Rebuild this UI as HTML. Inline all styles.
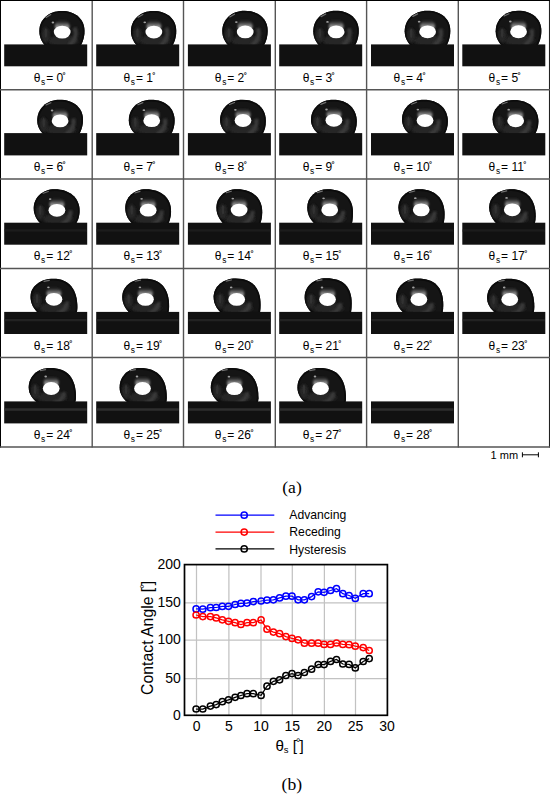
<!DOCTYPE html>
<html><head><meta charset="utf-8"><style>
html,body{margin:0;padding:0;background:#fff;width:550px;height:794px;overflow:hidden}
svg{display:block}
text{font-family:"Liberation Sans",sans-serif;fill:#000}
.lb{font-size:12px}
.sb{font-size:8.4px}
.sp{font-size:7.5px;font-weight:bold}
.tk{font-size:14px}
.al{font-size:15.2px}
.al2{font-size:15.8px}
.sb2{font-size:9.5px}
.dg{font-size:11px}
.lg{font-size:12.2px}
.mm{font-size:11px}
.cap{font-family:"Liberation Serif",serif;font-size:17.6px}
</style></head><body>
<svg width="550" height="794" viewBox="0 0 550 794">
<defs>
<radialGradient id="hl" cx="0.5" cy="0.5" r="0.5">
  <stop offset="0" stop-color="#ffffff"/>
  <stop offset="0.72" stop-color="#ffffff"/>
  <stop offset="0.9" stop-color="#d8d8d8"/>
  <stop offset="1" stop-color="#6a6a6a" stop-opacity="0"/>
</radialGradient>
<radialGradient id="halo" cx="0.5" cy="0.62" r="0.5" fx="0.5" fy="0.75">
  <stop offset="0" stop-color="#e0e0e0"/>
  <stop offset="0.45" stop-color="#a8a8a8"/>
  <stop offset="0.8" stop-color="#444" stop-opacity="0.6"/>
  <stop offset="1" stop-color="#1c1c1c" stop-opacity="0"/>
</radialGradient>
<linearGradient id="halo2" x1="0" y1="0" x2="0" y2="1">
  <stop offset="0" stop-color="#1c1c1c" stop-opacity="0"/>
  <stop offset="0.35" stop-color="#555"/>
  <stop offset="0.7" stop-color="#b8b8b8"/>
  <stop offset="1" stop-color="#f0f0f0"/>
</linearGradient>
<filter id="bl15" x="-50%" y="-50%" width="200%" height="200%"><feGaussianBlur stdDeviation="1.3"/></filter>
<filter id="bl05" x="-50%" y="-50%" width="200%" height="200%"><feGaussianBlur stdDeviation="0.45"/></filter>
<filter id="bl1" x="-50%" y="-50%" width="200%" height="200%"><feGaussianBlur stdDeviation="1.2"/></filter>
<radialGradient id="refl" cx="0.5" cy="0.5" r="0.5">
  <stop offset="0" stop-color="#4a4a4a"/>
  <stop offset="1" stop-color="#2a2a2a" stop-opacity="0"/>
</radialGradient>
<linearGradient id="subg" x1="0" y1="0" x2="0" y2="1">
  <stop offset="0" stop-color="#111"/>
  <stop offset="1" stop-color="#141414"/>
</linearGradient>
<clipPath id="cp0"><path d="M35.10,30.50 C35.10,19.10 44.69,10.50 57.40,10.50 C71.14,10.50 80.30,18.50 80.30,30.50 C80.30,43.48 72.29,54.00 62.41,54.00 C47.33,54.00 35.10,43.48 35.10,30.50 Z"/></clipPath><clipPath id="cp1"><path d="M34.75,30.55 C34.75,19.08 44.34,10.43 57.05,10.43 C70.85,10.43 80.05,18.43 80.05,30.43 C80.05,43.39 72.12,53.90 62.34,53.90 C47.10,53.90 34.75,43.45 34.75,30.55 Z"/></clipPath><clipPath id="cp2"><path d="M34.40,30.60 C34.40,19.07 43.99,10.37 56.70,10.37 C70.56,10.37 79.80,18.37 79.80,30.37 C79.80,43.36 71.90,53.90 62.16,53.90 C46.83,53.90 34.40,43.47 34.40,30.60 Z"/></clipPath><clipPath id="cp3"><path d="M34.05,30.65 C34.05,19.05 43.64,10.30 56.35,10.30 C70.27,10.30 79.55,18.30 79.55,30.30 C79.55,43.33 71.73,53.90 62.09,53.90 C46.60,53.90 34.05,43.49 34.05,30.65 Z"/></clipPath><clipPath id="cp4"><path d="M33.70,30.70 C33.70,19.03 43.29,10.23 56.00,10.23 C69.98,10.23 79.30,18.23 79.30,30.23 C79.30,43.30 71.51,53.90 61.91,53.90 C46.33,53.90 33.70,43.51 33.70,30.70 Z"/></clipPath><clipPath id="cp5"><path d="M33.35,30.75 C33.35,19.02 42.94,10.17 55.65,10.17 C69.69,10.17 79.05,18.17 79.05,30.17 C79.05,43.22 71.30,53.80 61.73,53.80 C46.06,53.80 33.35,43.48 33.35,30.75 Z"/></clipPath><clipPath id="cp6"><path d="M33.00,30.80 C33.00,19.00 42.59,10.10 55.30,10.10 C69.40,10.10 78.80,18.10 78.80,30.10 C78.80,42.69 71.13,52.90 61.66,52.90 C45.83,52.90 33.00,43.01 33.00,30.80 Z"/></clipPath><clipPath id="cp7"><path d="M32.60,30.57 C32.60,18.90 42.19,10.10 54.90,10.10 C69.00,10.10 78.40,18.35 78.40,30.73 C78.40,42.81 71.17,52.60 62.25,52.60 C45.87,52.60 32.60,42.74 32.60,30.57 Z"/></clipPath><clipPath id="cp8"><path d="M32.20,30.33 C32.20,18.80 41.79,10.10 54.50,10.10 C68.60,10.10 78.00,18.61 78.00,31.37 C78.00,42.98 71.21,52.40 62.84,52.40 C45.92,52.40 32.20,42.52 32.20,30.33 Z"/></clipPath><clipPath id="cp9"><path d="M31.80,30.10 C31.80,18.70 41.39,10.10 54.10,10.10 C68.20,10.10 77.60,18.86 77.60,32.00 C77.60,43.10 71.21,52.10 63.32,52.10 C45.91,52.10 31.80,42.25 31.80,30.10 Z"/></clipPath><clipPath id="cp10"><path d="M31.03,29.80 C31.03,18.61 40.39,10.17 52.80,10.17 C67.24,10.17 76.87,18.86 76.87,31.90 C76.87,43.11 70.03,52.20 61.59,52.20 C44.71,52.20 31.03,42.17 31.03,29.80 Z"/></clipPath><clipPath id="cp11"><path d="M30.27,29.50 C30.27,18.52 39.46,10.23 51.65,10.23 C66.34,10.23 76.13,18.86 76.13,31.80 C76.13,43.12 68.89,52.30 59.96,52.30 C43.56,52.30 30.27,42.09 30.27,29.50 Z"/></clipPath><clipPath id="cp12"><path d="M29.50,29.20 C29.50,18.43 38.53,10.30 50.50,10.30 C65.44,10.30 75.40,18.86 75.40,31.70 C75.40,43.41 67.71,52.90 58.23,52.90 C42.36,52.90 29.50,42.29 29.50,29.20 Z"/></clipPath><clipPath id="cp13"><path d="M29.00,28.97 C29.00,18.33 37.95,10.30 49.82,10.30 C65.02,10.30 74.87,18.96 74.87,32.33 C74.87,44.13 68.17,53.70 59.90,53.70 C42.84,53.70 29.00,42.63 29.00,28.97 Z"/></clipPath><clipPath id="cp14"><path d="M28.50,28.73 C28.50,18.23 37.37,10.30 49.13,10.30 C64.61,10.30 74.33,19.05 74.33,32.97 C74.33,44.91 68.87,54.60 62.13,54.60 C43.56,54.60 28.50,43.02 28.50,28.73 Z"/></clipPath><clipPath id="cp15"><path d="M28.00,28.50 C28.00,18.13 36.79,10.30 48.45,10.30 C64.19,10.30 73.80,19.13 73.80,33.60 C73.80,45.92 70.11,55.90 65.55,55.90 C44.81,55.90 28.00,43.63 28.00,28.50 Z"/></clipPath><clipPath id="cp16"><path d="M27.43,28.43 C27.43,18.10 36.59,10.30 48.73,10.30 C64.35,10.30 73.60,19.66 73.60,35.47 C73.60,46.59 69.44,55.60 64.30,55.60 C43.94,55.60 27.43,43.44 27.43,28.43 Z"/></clipPath><clipPath id="cp17"><path d="M26.87,28.37 C26.87,18.07 36.39,10.30 49.02,10.30 C64.50,10.30 73.40,20.17 73.40,37.33 C73.40,47.20 68.61,55.20 62.69,55.20 C42.90,55.20 26.87,43.19 26.87,28.37 Z"/></clipPath><clipPath id="cp18"><path d="M26.30,28.30 C26.30,18.04 36.19,10.30 49.30,10.30 C64.64,10.30 73.20,20.65 73.20,39.20 C73.20,47.21 67.06,53.70 59.48,53.70 C41.16,53.70 26.30,42.33 26.30,28.30 Z"/></clipPath><clipPath id="cp19"><path d="M26.00,28.43 C26.00,18.00 35.69,10.13 48.53,10.13 C64.39,10.13 72.97,19.84 72.97,37.80 C72.97,47.13 68.18,54.70 62.27,54.70 C42.24,54.70 26.00,42.94 26.00,28.43 Z"/></clipPath><clipPath id="cp20"><path d="M25.70,28.57 C25.70,17.96 35.19,9.97 47.77,9.97 C64.14,9.97 72.73,19.06 72.73,36.40 C72.73,46.89 68.95,55.40 64.28,55.40 C42.97,55.40 25.70,43.39 25.70,28.57 Z"/></clipPath><clipPath id="cp21"><path d="M25.40,28.70 C25.40,17.93 34.69,9.80 47.00,9.80 C63.91,9.80 72.50,18.29 72.50,35.00 C72.50,46.49 69.32,55.80 65.40,55.80 C43.31,55.80 25.40,43.67 25.40,28.70 Z"/></clipPath><clipPath id="cp22"><path d="M25.10,29.13 C25.10,18.27 34.32,10.07 46.53,10.07 C63.77,10.07 72.27,18.86 72.27,36.70 C72.27,46.64 68.68,54.70 64.25,54.70 C42.63,54.70 25.10,43.25 25.10,29.13 Z"/></clipPath><clipPath id="cp23"><path d="M24.80,29.57 C24.80,18.60 33.94,10.33 46.07,10.33 C63.46,10.33 72.03,19.60 72.03,38.40 C72.03,46.74 67.78,53.50 62.53,53.50 C41.69,53.50 24.80,42.79 24.80,29.57 Z"/></clipPath><clipPath id="cp24"><path d="M24.50,30.00 C24.50,18.94 33.57,10.60 45.60,10.60 C63.15,10.60 71.80,20.34 71.80,40.10 C71.80,47.28 66.63,53.10 60.24,53.10 C40.50,53.10 24.50,42.76 24.50,30.00 Z"/></clipPath><clipPath id="cp25"><path d="M23.40,30.00 C23.40,18.94 32.00,10.60 43.40,10.60 C61.62,10.60 70.60,20.47 70.60,40.50 C70.60,47.74 65.33,53.60 58.84,53.60 C39.27,53.60 23.40,43.03 23.40,30.00 Z"/></clipPath><clipPath id="cp26"><path d="M22.90,30.00 C22.90,18.94 31.76,10.60 43.50,10.60 C61.66,10.60 70.60,20.57 70.60,40.80 C70.60,47.37 64.20,52.70 56.31,52.70 C37.86,52.70 22.90,42.54 22.90,30.00 Z"/></clipPath><clipPath id="cp27"><path d="M18.20,30.00 C18.20,18.94 27.57,10.60 40.00,10.60 C57.96,10.60 66.80,20.76 66.80,41.40 C66.80,48.14 60.44,53.60 52.60,53.60 C33.60,53.60 18.20,43.03 18.20,30.00 Z"/></clipPath></defs>
<g transform="translate(4.20,0.50)">
<path d="M35.10,30.50 C35.10,19.10 44.69,10.50 57.40,10.50 C71.14,10.50 80.30,18.50 80.30,30.50 C80.30,43.48 72.29,54.00 62.41,54.00 C47.33,54.00 35.10,43.48 35.10,30.50 Z" fill="#151515"/>
<g clip-path="url(#cp0)">
<path d="M35.10,30.50 C35.10,19.10 44.69,10.50 57.40,10.50 C71.14,10.50 80.30,18.50 80.30,30.50 C80.30,43.48 72.29,54.00 62.41,54.00 C47.33,54.00 35.10,43.48 35.10,30.50 Z" fill="none" stroke="#0b0b0b" stroke-width="3.2"/>
<ellipse cx="59.00" cy="40.30" rx="15" ry="5.5" fill="#282828" filter="url(#bl15)"/>
<path d="M70.24,27.09 A13.5,13.5 0 0 1 64.75,44.49" fill="none" stroke="#3a3a3a" stroke-width="4" filter="url(#bl1)"/>
<ellipse cx="41.60" cy="34.50" rx="4.2" ry="7.5" fill="#252525" filter="url(#bl1)"/>
<ellipse cx="41.60" cy="32.50" rx="1.2" ry="4.5" fill="#333" filter="url(#bl05)"/>
<path d="M41.90,17.00 L46.60,14.10" fill="none" stroke="#707070" stroke-width="1.2" stroke-linecap="round" filter="url(#bl05)"/>
<ellipse cx="58.00" cy="25.30" rx="7.4" ry="6.5" fill="url(#halo2)" filter="url(#bl15)"/>
<ellipse cx="58.00" cy="31.60" rx="8.4" ry="6.4" fill="#fff" filter="url(#bl05)"/>
<ellipse cx="48.70" cy="22.00" rx="1.3" ry="0.9" fill="#a0a0a0"/>
</g>
<rect x="0" y="43.90" width="83.0" height="21.90" fill="#111111"/>
</g>
<g transform="translate(96.20,0.50)">
<path d="M34.75,30.55 C34.75,19.08 44.34,10.43 57.05,10.43 C70.85,10.43 80.05,18.43 80.05,30.43 C80.05,43.39 72.12,53.90 62.34,53.90 C47.10,53.90 34.75,43.45 34.75,30.55 Z" fill="#151515"/>
<g clip-path="url(#cp1)">
<path d="M34.75,30.55 C34.75,19.08 44.34,10.43 57.05,10.43 C70.85,10.43 80.05,18.43 80.05,30.43 C80.05,43.39 72.12,53.90 62.34,53.90 C47.10,53.90 34.75,43.45 34.75,30.55 Z" fill="none" stroke="#0b0b0b" stroke-width="3.2"/>
<ellipse cx="58.65" cy="40.23" rx="15" ry="5.5" fill="#282828" filter="url(#bl15)"/>
<path d="M70.05,27.39 A13.5,13.5 0 0 1 64.20,44.54" fill="none" stroke="#3a3a3a" stroke-width="4" filter="url(#bl1)"/>
<ellipse cx="41.25" cy="34.55" rx="4.2" ry="7.5" fill="#252525" filter="url(#bl1)"/>
<ellipse cx="41.25" cy="32.55" rx="1.2" ry="4.5" fill="#333" filter="url(#bl05)"/>
<path d="M41.88,16.72 L46.62,13.92" fill="none" stroke="#707070" stroke-width="1.2" stroke-linecap="round" filter="url(#bl05)"/>
<ellipse cx="57.65" cy="25.23" rx="7.4" ry="6.5" fill="url(#halo2)" filter="url(#bl15)"/>
<ellipse cx="57.65" cy="31.53" rx="8.4" ry="6.4" fill="#fff" filter="url(#bl05)"/>
<ellipse cx="48.56" cy="21.80" rx="1.3" ry="0.9" fill="#a0a0a0"/>
</g>
<rect x="0" y="43.90" width="83.0" height="21.90" fill="#111111"/>
</g>
<g transform="translate(187.90,0.50)">
<path d="M34.40,30.60 C34.40,19.07 43.99,10.37 56.70,10.37 C70.56,10.37 79.80,18.37 79.80,30.37 C79.80,43.36 71.90,53.90 62.16,53.90 C46.83,53.90 34.40,43.47 34.40,30.60 Z" fill="#151515"/>
<g clip-path="url(#cp2)">
<path d="M34.40,30.60 C34.40,19.07 43.99,10.37 56.70,10.37 C70.56,10.37 79.80,18.37 79.80,30.37 C79.80,43.36 71.90,53.90 62.16,53.90 C46.83,53.90 34.40,43.47 34.40,30.60 Z" fill="none" stroke="#0b0b0b" stroke-width="3.2"/>
<ellipse cx="58.30" cy="40.17" rx="15" ry="5.5" fill="#282828" filter="url(#bl15)"/>
<path d="M69.85,27.68 A13.5,13.5 0 0 1 63.66,44.58" fill="none" stroke="#3a3a3a" stroke-width="4" filter="url(#bl1)"/>
<ellipse cx="40.90" cy="34.60" rx="4.2" ry="7.5" fill="#252525" filter="url(#bl1)"/>
<ellipse cx="40.90" cy="32.60" rx="1.2" ry="4.5" fill="#333" filter="url(#bl05)"/>
<path d="M41.87,16.43 L46.63,13.73" fill="none" stroke="#707070" stroke-width="1.2" stroke-linecap="round" filter="url(#bl05)"/>
<ellipse cx="57.30" cy="25.17" rx="7.4" ry="6.5" fill="url(#halo2)" filter="url(#bl15)"/>
<ellipse cx="57.30" cy="31.47" rx="8.4" ry="6.4" fill="#fff" filter="url(#bl05)"/>
<ellipse cx="48.42" cy="21.60" rx="1.3" ry="0.9" fill="#a0a0a0"/>
</g>
<rect x="0" y="43.90" width="83.0" height="21.90" fill="#111111"/>
</g>
<g transform="translate(279.20,0.50)">
<path d="M34.05,30.65 C34.05,19.05 43.64,10.30 56.35,10.30 C70.27,10.30 79.55,18.30 79.55,30.30 C79.55,43.33 71.73,53.90 62.09,53.90 C46.60,53.90 34.05,43.49 34.05,30.65 Z" fill="#151515"/>
<g clip-path="url(#cp3)">
<path d="M34.05,30.65 C34.05,19.05 43.64,10.30 56.35,10.30 C70.27,10.30 79.55,18.30 79.55,30.30 C79.55,43.33 71.73,53.90 62.09,53.90 C46.60,53.90 34.05,43.49 34.05,30.65 Z" fill="none" stroke="#0b0b0b" stroke-width="3.2"/>
<ellipse cx="57.95" cy="40.10" rx="15" ry="5.5" fill="#282828" filter="url(#bl15)"/>
<path d="M69.64,27.98 A13.5,13.5 0 0 1 63.11,44.61" fill="none" stroke="#3a3a3a" stroke-width="4" filter="url(#bl1)"/>
<ellipse cx="40.55" cy="34.65" rx="4.2" ry="7.5" fill="#252525" filter="url(#bl1)"/>
<ellipse cx="40.55" cy="32.65" rx="1.2" ry="4.5" fill="#333" filter="url(#bl05)"/>
<path d="M41.85,16.15 L46.65,13.55" fill="none" stroke="#707070" stroke-width="1.2" stroke-linecap="round" filter="url(#bl05)"/>
<ellipse cx="56.95" cy="25.10" rx="7.4" ry="6.5" fill="url(#halo2)" filter="url(#bl15)"/>
<ellipse cx="56.95" cy="31.40" rx="8.4" ry="6.4" fill="#fff" filter="url(#bl05)"/>
<ellipse cx="48.28" cy="21.40" rx="1.3" ry="0.9" fill="#a0a0a0"/>
</g>
<rect x="0" y="43.90" width="83.0" height="21.90" fill="#111111"/>
</g>
<g transform="translate(371.00,0.50)">
<path d="M33.70,30.70 C33.70,19.03 43.29,10.23 56.00,10.23 C69.98,10.23 79.30,18.23 79.30,30.23 C79.30,43.30 71.51,53.90 61.91,53.90 C46.33,53.90 33.70,43.51 33.70,30.70 Z" fill="#151515"/>
<g clip-path="url(#cp4)">
<path d="M33.70,30.70 C33.70,19.03 43.29,10.23 56.00,10.23 C69.98,10.23 79.30,18.23 79.30,30.23 C79.30,43.30 71.51,53.90 61.91,53.90 C46.33,53.90 33.70,43.51 33.70,30.70 Z" fill="none" stroke="#0b0b0b" stroke-width="3.2"/>
<ellipse cx="57.60" cy="40.03" rx="15" ry="5.5" fill="#282828" filter="url(#bl15)"/>
<path d="M69.41,28.29 A13.5,13.5 0 0 1 62.56,44.65" fill="none" stroke="#3a3a3a" stroke-width="4" filter="url(#bl1)"/>
<ellipse cx="40.20" cy="34.70" rx="4.2" ry="7.5" fill="#252525" filter="url(#bl1)"/>
<ellipse cx="40.20" cy="32.70" rx="1.2" ry="4.5" fill="#333" filter="url(#bl05)"/>
<path d="M41.83,15.87 L46.67,13.37" fill="none" stroke="#707070" stroke-width="1.2" stroke-linecap="round" filter="url(#bl05)"/>
<ellipse cx="56.60" cy="25.03" rx="7.4" ry="6.5" fill="url(#halo2)" filter="url(#bl15)"/>
<ellipse cx="56.60" cy="31.33" rx="8.4" ry="6.4" fill="#fff" filter="url(#bl05)"/>
<ellipse cx="48.14" cy="21.20" rx="1.3" ry="0.9" fill="#a0a0a0"/>
</g>
<rect x="0" y="43.90" width="83.0" height="21.90" fill="#111111"/>
</g>
<g transform="translate(462.30,0.50)">
<path d="M33.35,30.75 C33.35,19.02 42.94,10.17 55.65,10.17 C69.69,10.17 79.05,18.17 79.05,30.17 C79.05,43.22 71.30,53.80 61.73,53.80 C46.06,53.80 33.35,43.48 33.35,30.75 Z" fill="#151515"/>
<g clip-path="url(#cp5)">
<path d="M33.35,30.75 C33.35,19.02 42.94,10.17 55.65,10.17 C69.69,10.17 79.05,18.17 79.05,30.17 C79.05,43.22 71.30,53.80 61.73,53.80 C46.06,53.80 33.35,43.48 33.35,30.75 Z" fill="none" stroke="#0b0b0b" stroke-width="3.2"/>
<ellipse cx="57.25" cy="39.97" rx="15" ry="5.5" fill="#282828" filter="url(#bl15)"/>
<path d="M69.18,28.59 A13.5,13.5 0 0 1 62.01,44.68" fill="none" stroke="#3a3a3a" stroke-width="4" filter="url(#bl1)"/>
<ellipse cx="39.85" cy="34.75" rx="4.2" ry="7.5" fill="#252525" filter="url(#bl1)"/>
<ellipse cx="39.85" cy="32.75" rx="1.2" ry="4.5" fill="#333" filter="url(#bl05)"/>
<path d="M41.82,15.58 L46.68,13.18" fill="none" stroke="#707070" stroke-width="1.2" stroke-linecap="round" filter="url(#bl05)"/>
<ellipse cx="56.25" cy="24.97" rx="7.4" ry="6.5" fill="url(#halo2)" filter="url(#bl15)"/>
<ellipse cx="56.25" cy="31.27" rx="8.4" ry="6.4" fill="#fff" filter="url(#bl05)"/>
<ellipse cx="48.01" cy="21.00" rx="1.3" ry="0.9" fill="#a0a0a0"/>
</g>
<rect x="0" y="43.90" width="83.0" height="21.90" fill="#111111"/>
</g>
<g transform="translate(4.20,89.70)">
<path d="M33.00,30.80 C33.00,19.00 42.59,10.10 55.30,10.10 C69.40,10.10 78.80,18.10 78.80,30.10 C78.80,42.69 71.13,52.90 61.66,52.90 C45.83,52.90 33.00,43.01 33.00,30.80 Z" fill="#151515"/>
<g clip-path="url(#cp6)">
<path d="M33.00,30.80 C33.00,19.00 42.59,10.10 55.30,10.10 C69.40,10.10 78.80,18.10 78.80,30.10 C78.80,42.69 71.13,52.90 61.66,52.90 C45.83,52.90 33.00,43.01 33.00,30.80 Z" fill="none" stroke="#0b0b0b" stroke-width="3.2"/>
<ellipse cx="56.90" cy="39.90" rx="15" ry="5.5" fill="#282828" filter="url(#bl15)"/>
<path d="M68.94,28.91 A13.5,13.5 0 0 1 61.45,44.71" fill="none" stroke="#3a3a3a" stroke-width="4" filter="url(#bl1)"/>
<ellipse cx="39.50" cy="34.80" rx="4.2" ry="7.5" fill="#252525" filter="url(#bl1)"/>
<ellipse cx="39.50" cy="32.80" rx="1.2" ry="4.5" fill="#333" filter="url(#bl05)"/>
<path d="M41.80,15.30 L46.70,13.00" fill="none" stroke="#707070" stroke-width="1.2" stroke-linecap="round" filter="url(#bl05)"/>
<ellipse cx="55.90" cy="24.90" rx="7.4" ry="6.5" fill="url(#halo2)" filter="url(#bl15)"/>
<ellipse cx="55.90" cy="31.20" rx="8.4" ry="6.4" fill="#fff" filter="url(#bl05)"/>
<ellipse cx="47.87" cy="20.80" rx="1.3" ry="0.9" fill="#a0a0a0"/>
</g>
<rect x="0" y="43.40" width="83.0" height="22.30" fill="#111111"/>
</g>
<g transform="translate(96.20,89.70)">
<path d="M32.60,30.57 C32.60,18.90 42.19,10.10 54.90,10.10 C69.00,10.10 78.40,18.35 78.40,30.73 C78.40,42.81 71.17,52.60 62.25,52.60 C45.87,52.60 32.60,42.74 32.60,30.57 Z" fill="#151515"/>
<g clip-path="url(#cp7)">
<path d="M32.60,30.57 C32.60,18.90 42.19,10.10 54.90,10.10 C69.00,10.10 78.40,18.35 78.40,30.73 C78.40,42.81 71.17,52.60 62.25,52.60 C45.87,52.60 32.60,42.74 32.60,30.57 Z" fill="none" stroke="#0b0b0b" stroke-width="3.2"/>
<ellipse cx="56.50" cy="39.70" rx="15" ry="5.5" fill="#282828" filter="url(#bl15)"/>
<path d="M68.64,29.09 A13.5,13.5 0 0 1 60.85,44.60" fill="none" stroke="#3a3a3a" stroke-width="4" filter="url(#bl1)"/>
<ellipse cx="39.10" cy="34.57" rx="4.2" ry="7.5" fill="#252525" filter="url(#bl1)"/>
<ellipse cx="39.10" cy="32.57" rx="1.2" ry="4.5" fill="#333" filter="url(#bl05)"/>
<path d="M41.73,15.08 L46.67,12.88" fill="none" stroke="#707070" stroke-width="1.2" stroke-linecap="round" filter="url(#bl05)"/>
<ellipse cx="55.50" cy="24.70" rx="7.4" ry="6.5" fill="url(#halo2)" filter="url(#bl15)"/>
<ellipse cx="55.50" cy="31.00" rx="8.4" ry="6.4" fill="#fff" filter="url(#bl05)"/>
<ellipse cx="47.68" cy="20.47" rx="1.3" ry="0.9" fill="#a0a0a0"/>
</g>
<rect x="0" y="43.40" width="83.0" height="22.30" fill="#111111"/>
</g>
<g transform="translate(187.90,89.70)">
<path d="M32.20,30.33 C32.20,18.80 41.79,10.10 54.50,10.10 C68.60,10.10 78.00,18.61 78.00,31.37 C78.00,42.98 71.21,52.40 62.84,52.40 C45.92,52.40 32.20,42.52 32.20,30.33 Z" fill="#151515"/>
<g clip-path="url(#cp8)">
<path d="M32.20,30.33 C32.20,18.80 41.79,10.10 54.50,10.10 C68.60,10.10 78.00,18.61 78.00,31.37 C78.00,42.98 71.21,52.40 62.84,52.40 C45.92,52.40 32.20,42.52 32.20,30.33 Z" fill="none" stroke="#0b0b0b" stroke-width="3.2"/>
<ellipse cx="56.10" cy="39.50" rx="15" ry="5.5" fill="#282828" filter="url(#bl15)"/>
<path d="M68.32,29.27 A13.5,13.5 0 0 1 60.24,44.48" fill="none" stroke="#3a3a3a" stroke-width="4" filter="url(#bl1)"/>
<ellipse cx="38.70" cy="34.33" rx="4.2" ry="7.5" fill="#252525" filter="url(#bl1)"/>
<ellipse cx="38.70" cy="32.33" rx="1.2" ry="4.5" fill="#333" filter="url(#bl05)"/>
<path d="M41.67,14.87 L46.63,12.77" fill="none" stroke="#707070" stroke-width="1.2" stroke-linecap="round" filter="url(#bl05)"/>
<ellipse cx="55.10" cy="24.50" rx="7.4" ry="6.5" fill="url(#halo2)" filter="url(#bl15)"/>
<ellipse cx="55.10" cy="30.80" rx="8.4" ry="6.4" fill="#fff" filter="url(#bl05)"/>
<ellipse cx="47.49" cy="20.13" rx="1.3" ry="0.9" fill="#a0a0a0"/>
</g>
<rect x="0" y="43.40" width="83.0" height="22.30" fill="#111111"/>
</g>
<g transform="translate(279.20,89.70)">
<path d="M31.80,30.10 C31.80,18.70 41.39,10.10 54.10,10.10 C68.20,10.10 77.60,18.86 77.60,32.00 C77.60,43.10 71.21,52.10 63.32,52.10 C45.91,52.10 31.80,42.25 31.80,30.10 Z" fill="#151515"/>
<g clip-path="url(#cp9)">
<path d="M31.80,30.10 C31.80,18.70 41.39,10.10 54.10,10.10 C68.20,10.10 77.60,18.86 77.60,32.00 C77.60,43.10 71.21,52.10 63.32,52.10 C45.91,52.10 31.80,42.25 31.80,30.10 Z" fill="none" stroke="#0b0b0b" stroke-width="3.2"/>
<ellipse cx="55.70" cy="39.30" rx="15" ry="5.5" fill="#282828" filter="url(#bl15)"/>
<path d="M67.99,29.46 A13.5,13.5 0 0 1 59.63,44.37" fill="none" stroke="#3a3a3a" stroke-width="4" filter="url(#bl1)"/>
<ellipse cx="38.30" cy="34.10" rx="4.2" ry="7.5" fill="#252525" filter="url(#bl1)"/>
<ellipse cx="38.30" cy="32.10" rx="1.2" ry="4.5" fill="#333" filter="url(#bl05)"/>
<path d="M41.60,14.65 L46.60,12.65" fill="none" stroke="#707070" stroke-width="1.2" stroke-linecap="round" filter="url(#bl05)"/>
<ellipse cx="54.70" cy="24.30" rx="7.4" ry="6.5" fill="url(#halo2)" filter="url(#bl15)"/>
<ellipse cx="54.70" cy="30.60" rx="8.4" ry="6.4" fill="#fff" filter="url(#bl05)"/>
<ellipse cx="47.30" cy="19.80" rx="1.3" ry="0.9" fill="#a0a0a0"/>
</g>
<rect x="0" y="43.40" width="83.0" height="22.30" fill="#111111"/>
</g>
<g transform="translate(371.00,89.70)">
<path d="M31.03,29.80 C31.03,18.61 40.39,10.17 52.80,10.17 C67.24,10.17 76.87,18.86 76.87,31.90 C76.87,43.11 70.03,52.20 61.59,52.20 C44.71,52.20 31.03,42.17 31.03,29.80 Z" fill="#151515"/>
<g clip-path="url(#cp10)">
<path d="M31.03,29.80 C31.03,18.61 40.39,10.17 52.80,10.17 C67.24,10.17 76.87,18.86 76.87,31.90 C76.87,43.11 70.03,52.20 61.59,52.20 C44.71,52.20 31.03,42.17 31.03,29.80 Z" fill="none" stroke="#0b0b0b" stroke-width="3.2"/>
<ellipse cx="55.03" cy="39.53" rx="15" ry="5.5" fill="#282828" filter="url(#bl15)"/>
<path d="M67.39,30.08 A13.5,13.5 0 0 1 58.76,44.68" fill="none" stroke="#3a3a3a" stroke-width="4" filter="url(#bl1)"/>
<ellipse cx="37.53" cy="33.80" rx="4.2" ry="7.5" fill="#252525" filter="url(#bl1)"/>
<ellipse cx="37.53" cy="31.80" rx="1.2" ry="4.5" fill="#333" filter="url(#bl05)"/>
<path d="M40.63,14.50 L45.67,12.60" fill="none" stroke="#707070" stroke-width="1.2" stroke-linecap="round" filter="url(#bl05)"/>
<ellipse cx="54.03" cy="24.53" rx="7.4" ry="6.5" fill="url(#halo2)" filter="url(#bl15)"/>
<ellipse cx="54.03" cy="30.83" rx="8.4" ry="6.4" fill="#fff" filter="url(#bl05)"/>
<ellipse cx="46.84" cy="19.90" rx="1.3" ry="0.9" fill="#a0a0a0"/>
</g>
<rect x="0" y="43.40" width="83.0" height="22.30" fill="#111111"/>
</g>
<g transform="translate(462.30,89.70)">
<path d="M30.27,29.50 C30.27,18.52 39.46,10.23 51.65,10.23 C66.34,10.23 76.13,18.86 76.13,31.80 C76.13,43.12 68.89,52.30 59.96,52.30 C43.56,52.30 30.27,42.09 30.27,29.50 Z" fill="#151515"/>
<g clip-path="url(#cp11)">
<path d="M30.27,29.50 C30.27,18.52 39.46,10.23 51.65,10.23 C66.34,10.23 76.13,18.86 76.13,31.80 C76.13,43.12 68.89,52.30 59.96,52.30 C43.56,52.30 30.27,42.09 30.27,29.50 Z" fill="none" stroke="#0b0b0b" stroke-width="3.2"/>
<ellipse cx="54.37" cy="39.77" rx="15" ry="5.5" fill="#282828" filter="url(#bl15)"/>
<path d="M66.78,30.70 A13.5,13.5 0 0 1 57.88,44.99" fill="none" stroke="#3a3a3a" stroke-width="4" filter="url(#bl1)"/>
<ellipse cx="36.77" cy="33.50" rx="4.2" ry="7.5" fill="#252525" filter="url(#bl1)"/>
<ellipse cx="36.77" cy="31.50" rx="1.2" ry="4.5" fill="#333" filter="url(#bl05)"/>
<path d="M39.82,14.35 L44.88,12.55" fill="none" stroke="#707070" stroke-width="1.2" stroke-linecap="round" filter="url(#bl05)"/>
<ellipse cx="53.37" cy="24.77" rx="7.4" ry="6.5" fill="url(#halo2)" filter="url(#bl15)"/>
<ellipse cx="53.37" cy="31.07" rx="8.4" ry="6.4" fill="#fff" filter="url(#bl05)"/>
<ellipse cx="46.39" cy="20.00" rx="1.3" ry="0.9" fill="#a0a0a0"/>
</g>
<rect x="0" y="43.40" width="83.0" height="22.30" fill="#111111"/>
</g>
<g transform="translate(4.20,179.00)">
<path d="M29.50,29.20 C29.50,18.43 38.53,10.30 50.50,10.30 C65.44,10.30 75.40,18.86 75.40,31.70 C75.40,43.41 67.71,52.90 58.23,52.90 C42.36,52.90 29.50,42.29 29.50,29.20 Z" fill="#151515"/>
<g clip-path="url(#cp12)">
<path d="M29.50,29.20 C29.50,18.43 38.53,10.30 50.50,10.30 C65.44,10.30 75.40,18.86 75.40,31.70 C75.40,43.41 67.71,52.90 58.23,52.90 C42.36,52.90 29.50,42.29 29.50,29.20 Z" fill="none" stroke="#0b0b0b" stroke-width="3.2"/>
<ellipse cx="53.70" cy="40.00" rx="15" ry="5.5" fill="#282828" filter="url(#bl15)"/>
<path d="M66.15,31.32 A13.5,13.5 0 0 1 57.00,45.30" fill="none" stroke="#3a3a3a" stroke-width="4" filter="url(#bl1)"/>
<ellipse cx="36.00" cy="33.20" rx="4.2" ry="7.5" fill="#252525" filter="url(#bl1)"/>
<ellipse cx="36.00" cy="31.20" rx="1.2" ry="4.5" fill="#333" filter="url(#bl05)"/>
<path d="M39.00,14.20 L44.10,12.50" fill="none" stroke="#707070" stroke-width="1.2" stroke-linecap="round" filter="url(#bl05)"/>
<ellipse cx="52.70" cy="25.00" rx="7.4" ry="6.5" fill="url(#halo2)" filter="url(#bl15)"/>
<ellipse cx="52.70" cy="31.30" rx="8.4" ry="6.4" fill="#fff" filter="url(#bl05)"/>
<ellipse cx="45.93" cy="20.10" rx="1.3" ry="0.9" fill="#a0a0a0"/>
</g>
<rect x="0" y="43.70" width="83.0" height="22.00" fill="#111111"/>
<rect x="0.5" y="50.40" width="82.0" height="2.4" fill="#1b1b1b" filter="url(#bl05)"/>
</g>
<g transform="translate(96.20,179.00)">
<path d="M29.00,28.97 C29.00,18.33 37.95,10.30 49.82,10.30 C65.02,10.30 74.87,18.96 74.87,32.33 C74.87,44.13 68.17,53.70 59.90,53.70 C42.84,53.70 29.00,42.63 29.00,28.97 Z" fill="#151515"/>
<g clip-path="url(#cp13)">
<path d="M29.00,28.97 C29.00,18.33 37.95,10.30 49.82,10.30 C65.02,10.30 74.87,18.96 74.87,32.33 C74.87,44.13 68.17,53.70 59.90,53.70 C42.84,53.70 29.00,42.63 29.00,28.97 Z" fill="none" stroke="#0b0b0b" stroke-width="3.2"/>
<ellipse cx="52.97" cy="39.87" rx="15" ry="5.5" fill="#282828" filter="url(#bl15)"/>
<path d="M65.44,31.58 A13.5,13.5 0 0 1 56.05,45.23" fill="none" stroke="#3a3a3a" stroke-width="4" filter="url(#bl1)"/>
<ellipse cx="35.50" cy="32.97" rx="4.2" ry="7.5" fill="#252525" filter="url(#bl1)"/>
<ellipse cx="35.50" cy="30.97" rx="1.2" ry="4.5" fill="#333" filter="url(#bl05)"/>
<path d="M38.65,13.98 L43.78,12.38" fill="none" stroke="#707070" stroke-width="1.2" stroke-linecap="round" filter="url(#bl05)"/>
<ellipse cx="51.97" cy="24.87" rx="7.4" ry="6.5" fill="url(#halo2)" filter="url(#bl15)"/>
<ellipse cx="51.97" cy="31.17" rx="8.4" ry="6.4" fill="#fff" filter="url(#bl05)"/>
<ellipse cx="45.41" cy="19.83" rx="1.3" ry="0.9" fill="#a0a0a0"/>
</g>
<rect x="0" y="43.70" width="83.0" height="22.00" fill="#111111"/>
<rect x="0.5" y="50.40" width="82.0" height="2.4" fill="#1b1b1b" filter="url(#bl05)"/>
</g>
<g transform="translate(187.90,179.00)">
<path d="M28.50,28.73 C28.50,18.23 37.37,10.30 49.13,10.30 C64.61,10.30 74.33,19.05 74.33,32.97 C74.33,44.91 68.87,54.60 62.13,54.60 C43.56,54.60 28.50,43.02 28.50,28.73 Z" fill="#151515"/>
<g clip-path="url(#cp14)">
<path d="M28.50,28.73 C28.50,18.23 37.37,10.30 49.13,10.30 C64.61,10.30 74.33,19.05 74.33,32.97 C74.33,44.91 68.87,54.60 62.13,54.60 C43.56,54.60 28.50,43.02 28.50,28.73 Z" fill="none" stroke="#0b0b0b" stroke-width="3.2"/>
<ellipse cx="52.23" cy="39.73" rx="15" ry="5.5" fill="#282828" filter="url(#bl15)"/>
<path d="M64.73,31.84 A13.5,13.5 0 0 1 55.11,45.17" fill="none" stroke="#3a3a3a" stroke-width="4" filter="url(#bl1)"/>
<ellipse cx="35.00" cy="32.73" rx="4.2" ry="7.5" fill="#252525" filter="url(#bl1)"/>
<ellipse cx="35.00" cy="30.73" rx="1.2" ry="4.5" fill="#333" filter="url(#bl05)"/>
<path d="M38.30,13.77 L43.47,12.27" fill="none" stroke="#707070" stroke-width="1.2" stroke-linecap="round" filter="url(#bl05)"/>
<ellipse cx="51.23" cy="24.73" rx="7.4" ry="6.5" fill="url(#halo2)" filter="url(#bl15)"/>
<ellipse cx="51.23" cy="31.03" rx="8.4" ry="6.4" fill="#fff" filter="url(#bl05)"/>
<ellipse cx="44.89" cy="19.57" rx="1.3" ry="0.9" fill="#a0a0a0"/>
</g>
<rect x="0" y="43.70" width="83.0" height="22.00" fill="#111111"/>
<rect x="0.5" y="50.40" width="82.0" height="2.4" fill="#1b1b1b" filter="url(#bl05)"/>
</g>
<g transform="translate(279.20,179.00)">
<path d="M28.00,28.50 C28.00,18.13 36.79,10.30 48.45,10.30 C64.19,10.30 73.80,19.13 73.80,33.60 C73.80,45.92 70.11,55.90 65.55,55.90 C44.81,55.90 28.00,43.63 28.00,28.50 Z" fill="#151515"/>
<g clip-path="url(#cp15)">
<path d="M28.00,28.50 C28.00,18.13 36.79,10.30 48.45,10.30 C64.19,10.30 73.80,19.13 73.80,33.60 C73.80,45.92 70.11,55.90 65.55,55.90 C44.81,55.90 28.00,43.63 28.00,28.50 Z" fill="none" stroke="#0b0b0b" stroke-width="3.2"/>
<ellipse cx="51.50" cy="39.60" rx="15" ry="5.5" fill="#282828" filter="url(#bl15)"/>
<path d="M64.00,32.10 A13.5,13.5 0 0 1 54.16,45.10" fill="none" stroke="#3a3a3a" stroke-width="4" filter="url(#bl1)"/>
<ellipse cx="34.50" cy="32.50" rx="4.2" ry="7.5" fill="#252525" filter="url(#bl1)"/>
<ellipse cx="34.50" cy="30.50" rx="1.2" ry="4.5" fill="#333" filter="url(#bl05)"/>
<path d="M37.95,13.55 L43.15,12.15" fill="none" stroke="#707070" stroke-width="1.2" stroke-linecap="round" filter="url(#bl05)"/>
<ellipse cx="50.50" cy="24.60" rx="7.4" ry="6.5" fill="url(#halo2)" filter="url(#bl15)"/>
<ellipse cx="50.50" cy="30.90" rx="8.4" ry="6.4" fill="#fff" filter="url(#bl05)"/>
<ellipse cx="44.37" cy="19.30" rx="1.3" ry="0.9" fill="#a0a0a0"/>
</g>
<rect x="0" y="43.70" width="83.0" height="22.00" fill="#111111"/>
<rect x="0.5" y="50.40" width="82.0" height="2.4" fill="#1b1b1b" filter="url(#bl05)"/>
</g>
<g transform="translate(371.00,179.00)">
<path d="M27.43,28.43 C27.43,18.10 36.59,10.30 48.73,10.30 C64.35,10.30 73.60,19.66 73.60,35.47 C73.60,46.59 69.44,55.60 64.30,55.60 C43.94,55.60 27.43,43.44 27.43,28.43 Z" fill="#151515"/>
<g clip-path="url(#cp16)">
<path d="M27.43,28.43 C27.43,18.10 36.59,10.30 48.73,10.30 C64.35,10.30 73.60,19.66 73.60,35.47 C73.60,46.59 69.44,55.60 64.30,55.60 C43.94,55.60 27.43,43.44 27.43,28.43 Z" fill="none" stroke="#0b0b0b" stroke-width="3.2"/>
<ellipse cx="51.23" cy="39.57" rx="15" ry="5.5" fill="#282828" filter="url(#bl15)"/>
<path d="M63.73,32.46 A13.5,13.5 0 0 1 53.67,45.12" fill="none" stroke="#3a3a3a" stroke-width="4" filter="url(#bl1)"/>
<ellipse cx="33.93" cy="32.43" rx="4.2" ry="7.5" fill="#252525" filter="url(#bl1)"/>
<ellipse cx="33.93" cy="30.43" rx="1.2" ry="4.5" fill="#333" filter="url(#bl05)"/>
<path d="M38.57,13.33 L43.80,12.03" fill="none" stroke="#707070" stroke-width="1.2" stroke-linecap="round" filter="url(#bl05)"/>
<ellipse cx="50.23" cy="24.57" rx="7.4" ry="6.5" fill="url(#halo2)" filter="url(#bl15)"/>
<ellipse cx="50.23" cy="30.87" rx="8.4" ry="6.4" fill="#fff" filter="url(#bl05)"/>
<ellipse cx="44.31" cy="19.13" rx="1.3" ry="0.9" fill="#a0a0a0"/>
</g>
<rect x="0" y="43.70" width="83.0" height="22.00" fill="#111111"/>
<rect x="0.5" y="50.40" width="82.0" height="2.4" fill="#1b1b1b" filter="url(#bl05)"/>
</g>
<g transform="translate(462.30,179.00)">
<path d="M26.87,28.37 C26.87,18.07 36.39,10.30 49.02,10.30 C64.50,10.30 73.40,20.17 73.40,37.33 C73.40,47.20 68.61,55.20 62.69,55.20 C42.90,55.20 26.87,43.19 26.87,28.37 Z" fill="#151515"/>
<g clip-path="url(#cp17)">
<path d="M26.87,28.37 C26.87,18.07 36.39,10.30 49.02,10.30 C64.50,10.30 73.40,20.17 73.40,37.33 C73.40,47.20 68.61,55.20 62.69,55.20 C42.90,55.20 26.87,43.19 26.87,28.37 Z" fill="none" stroke="#0b0b0b" stroke-width="3.2"/>
<ellipse cx="50.97" cy="39.53" rx="15" ry="5.5" fill="#282828" filter="url(#bl15)"/>
<path d="M63.44,32.82 A13.5,13.5 0 0 1 53.19,45.14" fill="none" stroke="#3a3a3a" stroke-width="4" filter="url(#bl1)"/>
<ellipse cx="33.37" cy="32.37" rx="4.2" ry="7.5" fill="#252525" filter="url(#bl1)"/>
<ellipse cx="33.37" cy="30.37" rx="1.2" ry="4.5" fill="#333" filter="url(#bl05)"/>
<path d="M39.18,13.12 L44.45,11.92" fill="none" stroke="#707070" stroke-width="1.2" stroke-linecap="round" filter="url(#bl05)"/>
<ellipse cx="49.97" cy="24.53" rx="7.4" ry="6.5" fill="url(#halo2)" filter="url(#bl15)"/>
<ellipse cx="49.97" cy="30.83" rx="8.4" ry="6.4" fill="#fff" filter="url(#bl05)"/>
<ellipse cx="44.26" cy="18.97" rx="1.3" ry="0.9" fill="#a0a0a0"/>
</g>
<rect x="0" y="43.70" width="83.0" height="22.00" fill="#111111"/>
<rect x="0.5" y="50.40" width="82.0" height="2.4" fill="#1b1b1b" filter="url(#bl05)"/>
</g>
<g transform="translate(4.20,268.50)">
<path d="M26.30,28.30 C26.30,18.04 36.19,10.30 49.30,10.30 C64.64,10.30 73.20,20.65 73.20,39.20 C73.20,47.21 67.06,53.70 59.48,53.70 C41.16,53.70 26.30,42.33 26.30,28.30 Z" fill="#151515"/>
<g clip-path="url(#cp18)">
<path d="M26.30,28.30 C26.30,18.04 36.19,10.30 49.30,10.30 C64.64,10.30 73.20,20.65 73.20,39.20 C73.20,47.21 67.06,53.70 59.48,53.70 C41.16,53.70 26.30,42.33 26.30,28.30 Z" fill="none" stroke="#0b0b0b" stroke-width="3.2"/>
<ellipse cx="50.70" cy="39.50" rx="15" ry="5.5" fill="#282828" filter="url(#bl15)"/>
<path d="M63.15,33.18 A13.5,13.5 0 0 1 52.70,45.16" fill="none" stroke="#3a3a3a" stroke-width="4" filter="url(#bl1)"/>
<ellipse cx="32.80" cy="32.30" rx="4.2" ry="7.5" fill="#252525" filter="url(#bl1)"/>
<ellipse cx="32.80" cy="30.30" rx="1.2" ry="4.5" fill="#333" filter="url(#bl05)"/>
<path d="M39.80,12.90 L45.10,11.80" fill="none" stroke="#707070" stroke-width="1.2" stroke-linecap="round" filter="url(#bl05)"/>
<ellipse cx="49.70" cy="24.50" rx="7.4" ry="6.5" fill="url(#halo2)" filter="url(#bl15)"/>
<ellipse cx="49.70" cy="30.80" rx="8.4" ry="6.4" fill="#fff" filter="url(#bl05)"/>
<ellipse cx="44.20" cy="18.80" rx="1.3" ry="0.9" fill="#a0a0a0"/>
</g>
<rect x="0" y="43.40" width="83.0" height="22.10" fill="#111111"/>
<rect x="0.5" y="50.40" width="82.0" height="2.4" fill="#202020" filter="url(#bl05)"/>
</g>
<g transform="translate(96.20,268.50)">
<path d="M26.00,28.43 C26.00,18.00 35.69,10.13 48.53,10.13 C64.39,10.13 72.97,19.84 72.97,37.80 C72.97,47.13 68.18,54.70 62.27,54.70 C42.24,54.70 26.00,42.94 26.00,28.43 Z" fill="#151515"/>
<g clip-path="url(#cp19)">
<path d="M26.00,28.43 C26.00,18.00 35.69,10.13 48.53,10.13 C64.39,10.13 72.97,19.84 72.97,37.80 C72.97,47.13 68.18,54.70 62.27,54.70 C42.24,54.70 26.00,42.94 26.00,28.43 Z" fill="none" stroke="#0b0b0b" stroke-width="3.2"/>
<ellipse cx="50.23" cy="39.57" rx="15" ry="5.5" fill="#282828" filter="url(#bl15)"/>
<path d="M62.64,33.63 A13.5,13.5 0 0 1 52.02,45.28" fill="none" stroke="#3a3a3a" stroke-width="4" filter="url(#bl1)"/>
<ellipse cx="32.50" cy="32.43" rx="4.2" ry="7.5" fill="#252525" filter="url(#bl1)"/>
<ellipse cx="32.50" cy="30.43" rx="1.2" ry="4.5" fill="#333" filter="url(#bl05)"/>
<path d="M39.03,12.73 L44.33,11.63" fill="none" stroke="#707070" stroke-width="1.2" stroke-linecap="round" filter="url(#bl05)"/>
<ellipse cx="49.23" cy="24.57" rx="7.4" ry="6.5" fill="url(#halo2)" filter="url(#bl15)"/>
<ellipse cx="49.23" cy="30.87" rx="8.4" ry="6.4" fill="#fff" filter="url(#bl05)"/>
<ellipse cx="43.73" cy="18.87" rx="1.3" ry="0.9" fill="#a0a0a0"/>
</g>
<rect x="0" y="43.40" width="83.0" height="22.10" fill="#111111"/>
<rect x="0.5" y="50.40" width="82.0" height="2.4" fill="#202020" filter="url(#bl05)"/>
</g>
<g transform="translate(187.90,268.50)">
<path d="M25.70,28.57 C25.70,17.96 35.19,9.97 47.77,9.97 C64.14,9.97 72.73,19.06 72.73,36.40 C72.73,46.89 68.95,55.40 64.28,55.40 C42.97,55.40 25.70,43.39 25.70,28.57 Z" fill="#151515"/>
<g clip-path="url(#cp20)">
<path d="M25.70,28.57 C25.70,17.96 35.19,9.97 47.77,9.97 C64.14,9.97 72.73,19.06 72.73,36.40 C72.73,46.89 68.95,55.40 64.28,55.40 C42.97,55.40 25.70,43.39 25.70,28.57 Z" fill="none" stroke="#0b0b0b" stroke-width="3.2"/>
<ellipse cx="49.77" cy="39.63" rx="15" ry="5.5" fill="#282828" filter="url(#bl15)"/>
<path d="M62.12,34.09 A13.5,13.5 0 0 1 51.33,45.39" fill="none" stroke="#3a3a3a" stroke-width="4" filter="url(#bl1)"/>
<ellipse cx="32.20" cy="32.57" rx="4.2" ry="7.5" fill="#252525" filter="url(#bl1)"/>
<ellipse cx="32.20" cy="30.57" rx="1.2" ry="4.5" fill="#333" filter="url(#bl05)"/>
<path d="M38.27,12.57 L43.57,11.47" fill="none" stroke="#707070" stroke-width="1.2" stroke-linecap="round" filter="url(#bl05)"/>
<ellipse cx="48.77" cy="24.63" rx="7.4" ry="6.5" fill="url(#halo2)" filter="url(#bl15)"/>
<ellipse cx="48.77" cy="30.93" rx="8.4" ry="6.4" fill="#fff" filter="url(#bl05)"/>
<ellipse cx="43.27" cy="18.93" rx="1.3" ry="0.9" fill="#a0a0a0"/>
</g>
<rect x="0" y="43.40" width="83.0" height="22.10" fill="#111111"/>
<rect x="0.5" y="50.40" width="82.0" height="2.4" fill="#202020" filter="url(#bl05)"/>
</g>
<g transform="translate(279.20,268.50)">
<path d="M25.40,28.70 C25.40,17.93 34.69,9.80 47.00,9.80 C63.91,9.80 72.50,18.29 72.50,35.00 C72.50,46.49 69.32,55.80 65.40,55.80 C43.31,55.80 25.40,43.67 25.40,28.70 Z" fill="#151515"/>
<g clip-path="url(#cp21)">
<path d="M25.40,28.70 C25.40,17.93 34.69,9.80 47.00,9.80 C63.91,9.80 72.50,18.29 72.50,35.00 C72.50,46.49 69.32,55.80 65.40,55.80 C43.31,55.80 25.40,43.67 25.40,28.70 Z" fill="none" stroke="#0b0b0b" stroke-width="3.2"/>
<ellipse cx="49.30" cy="39.70" rx="15" ry="5.5" fill="#282828" filter="url(#bl15)"/>
<path d="M61.59,34.54 A13.5,13.5 0 0 1 50.64,45.49" fill="none" stroke="#3a3a3a" stroke-width="4" filter="url(#bl1)"/>
<ellipse cx="31.90" cy="32.70" rx="4.2" ry="7.5" fill="#252525" filter="url(#bl1)"/>
<ellipse cx="31.90" cy="30.70" rx="1.2" ry="4.5" fill="#333" filter="url(#bl05)"/>
<path d="M37.50,12.40 L42.80,11.30" fill="none" stroke="#707070" stroke-width="1.2" stroke-linecap="round" filter="url(#bl05)"/>
<ellipse cx="48.30" cy="24.70" rx="7.4" ry="6.5" fill="url(#halo2)" filter="url(#bl15)"/>
<ellipse cx="48.30" cy="31.00" rx="8.4" ry="6.4" fill="#fff" filter="url(#bl05)"/>
<ellipse cx="42.80" cy="19.00" rx="1.3" ry="0.9" fill="#a0a0a0"/>
</g>
<rect x="0" y="43.40" width="83.0" height="22.10" fill="#111111"/>
<rect x="0.5" y="50.40" width="82.0" height="2.4" fill="#202020" filter="url(#bl05)"/>
</g>
<g transform="translate(371.00,268.50)">
<path d="M25.10,29.13 C25.10,18.27 34.32,10.07 46.53,10.07 C63.77,10.07 72.27,18.86 72.27,36.70 C72.27,46.64 68.68,54.70 64.25,54.70 C42.63,54.70 25.10,43.25 25.10,29.13 Z" fill="#151515"/>
<g clip-path="url(#cp22)">
<path d="M25.10,29.13 C25.10,18.27 34.32,10.07 46.53,10.07 C63.77,10.07 72.27,18.86 72.27,36.70 C72.27,46.64 68.68,54.70 64.25,54.70 C42.63,54.70 25.10,43.25 25.10,29.13 Z" fill="none" stroke="#0b0b0b" stroke-width="3.2"/>
<ellipse cx="48.87" cy="39.70" rx="15" ry="5.5" fill="#282828" filter="url(#bl15)"/>
<path d="M61.16,34.54 A13.5,13.5 0 0 1 50.21,45.49" fill="none" stroke="#3a3a3a" stroke-width="4" filter="url(#bl1)"/>
<ellipse cx="31.60" cy="33.13" rx="4.2" ry="7.5" fill="#252525" filter="url(#bl1)"/>
<ellipse cx="31.60" cy="31.13" rx="1.2" ry="4.5" fill="#333" filter="url(#bl05)"/>
<path d="M37.03,12.67 L42.33,11.57" fill="none" stroke="#707070" stroke-width="1.2" stroke-linecap="round" filter="url(#bl05)"/>
<ellipse cx="47.87" cy="24.70" rx="7.4" ry="6.5" fill="url(#halo2)" filter="url(#bl15)"/>
<ellipse cx="47.87" cy="31.00" rx="8.4" ry="6.4" fill="#fff" filter="url(#bl05)"/>
<ellipse cx="42.37" cy="19.00" rx="1.3" ry="0.9" fill="#a0a0a0"/>
</g>
<rect x="0" y="43.40" width="83.0" height="22.10" fill="#111111"/>
<rect x="0.5" y="50.40" width="82.0" height="2.4" fill="#202020" filter="url(#bl05)"/>
</g>
<g transform="translate(462.30,268.50)">
<path d="M24.80,29.57 C24.80,18.60 33.94,10.33 46.07,10.33 C63.46,10.33 72.03,19.60 72.03,38.40 C72.03,46.74 67.78,53.50 62.53,53.50 C41.69,53.50 24.80,42.79 24.80,29.57 Z" fill="#151515"/>
<g clip-path="url(#cp23)">
<path d="M24.80,29.57 C24.80,18.60 33.94,10.33 46.07,10.33 C63.46,10.33 72.03,19.60 72.03,38.40 C72.03,46.74 67.78,53.50 62.53,53.50 C41.69,53.50 24.80,42.79 24.80,29.57 Z" fill="none" stroke="#0b0b0b" stroke-width="3.2"/>
<ellipse cx="48.43" cy="39.70" rx="15" ry="5.5" fill="#282828" filter="url(#bl15)"/>
<path d="M60.73,34.54 A13.5,13.5 0 0 1 49.78,45.49" fill="none" stroke="#3a3a3a" stroke-width="4" filter="url(#bl1)"/>
<ellipse cx="31.30" cy="33.57" rx="4.2" ry="7.5" fill="#252525" filter="url(#bl1)"/>
<ellipse cx="31.30" cy="31.57" rx="1.2" ry="4.5" fill="#333" filter="url(#bl05)"/>
<path d="M36.57,12.93 L41.87,11.83" fill="none" stroke="#707070" stroke-width="1.2" stroke-linecap="round" filter="url(#bl05)"/>
<ellipse cx="47.43" cy="24.70" rx="7.4" ry="6.5" fill="url(#halo2)" filter="url(#bl15)"/>
<ellipse cx="47.43" cy="31.00" rx="8.4" ry="6.4" fill="#fff" filter="url(#bl05)"/>
<ellipse cx="41.93" cy="19.00" rx="1.3" ry="0.9" fill="#a0a0a0"/>
</g>
<rect x="0" y="43.40" width="83.0" height="22.10" fill="#111111"/>
<rect x="0.5" y="50.40" width="82.0" height="2.4" fill="#202020" filter="url(#bl05)"/>
</g>
<g transform="translate(4.20,357.50)">
<path d="M24.50,30.00 C24.50,18.94 33.57,10.60 45.60,10.60 C63.15,10.60 71.80,20.34 71.80,40.10 C71.80,47.28 66.63,53.10 60.24,53.10 C40.50,53.10 24.50,42.76 24.50,30.00 Z" fill="#151515"/>
<g clip-path="url(#cp24)">
<path d="M24.50,30.00 C24.50,18.94 33.57,10.60 45.60,10.60 C63.15,10.60 71.80,20.34 71.80,40.10 C71.80,47.28 66.63,53.10 60.24,53.10 C40.50,53.10 24.50,42.76 24.50,30.00 Z" fill="none" stroke="#0b0b0b" stroke-width="3.2"/>
<ellipse cx="48.00" cy="39.70" rx="15" ry="5.5" fill="#282828" filter="url(#bl15)"/>
<path d="M60.29,34.54 A13.5,13.5 0 0 1 49.34,45.49" fill="none" stroke="#3a3a3a" stroke-width="4" filter="url(#bl1)"/>
<ellipse cx="31.00" cy="34.00" rx="4.2" ry="7.5" fill="#252525" filter="url(#bl1)"/>
<ellipse cx="31.00" cy="32.00" rx="1.2" ry="4.5" fill="#333" filter="url(#bl05)"/>
<path d="M36.10,13.20 L41.40,12.10" fill="none" stroke="#707070" stroke-width="1.2" stroke-linecap="round" filter="url(#bl05)"/>
<ellipse cx="47.00" cy="24.70" rx="7.4" ry="6.5" fill="url(#halo2)" filter="url(#bl15)"/>
<ellipse cx="47.00" cy="31.00" rx="8.4" ry="6.4" fill="#fff" filter="url(#bl05)"/>
<ellipse cx="41.50" cy="19.00" rx="1.3" ry="0.9" fill="#a0a0a0"/>
</g>
<rect x="0" y="43.90" width="83.0" height="22.00" fill="#111111"/>
<rect x="0.5" y="50.80" width="82.0" height="2.4" fill="#2e2e2e" filter="url(#bl05)"/>
</g>
<g transform="translate(96.20,357.50)">
<path d="M23.40,30.00 C23.40,18.94 32.00,10.60 43.40,10.60 C61.62,10.60 70.60,20.47 70.60,40.50 C70.60,47.74 65.33,53.60 58.84,53.60 C39.27,53.60 23.40,43.03 23.40,30.00 Z" fill="#151515"/>
<g clip-path="url(#cp25)">
<path d="M23.40,30.00 C23.40,18.94 32.00,10.60 43.40,10.60 C61.62,10.60 70.60,20.47 70.60,40.50 C70.60,47.74 65.33,53.60 58.84,53.60 C39.27,53.60 23.40,43.03 23.40,30.00 Z" fill="none" stroke="#0b0b0b" stroke-width="3.2"/>
<ellipse cx="47.30" cy="39.70" rx="15" ry="5.5" fill="#282828" filter="url(#bl15)"/>
<path d="M59.59,34.54 A13.5,13.5 0 0 1 48.64,45.49" fill="none" stroke="#3a3a3a" stroke-width="4" filter="url(#bl1)"/>
<ellipse cx="29.90" cy="34.00" rx="4.2" ry="7.5" fill="#252525" filter="url(#bl1)"/>
<ellipse cx="29.90" cy="32.00" rx="1.2" ry="4.5" fill="#333" filter="url(#bl05)"/>
<path d="M33.90,13.20 L39.20,12.10" fill="none" stroke="#707070" stroke-width="1.2" stroke-linecap="round" filter="url(#bl05)"/>
<ellipse cx="46.30" cy="24.70" rx="7.4" ry="6.5" fill="url(#halo2)" filter="url(#bl15)"/>
<ellipse cx="46.30" cy="31.00" rx="8.4" ry="6.4" fill="#fff" filter="url(#bl05)"/>
<ellipse cx="40.80" cy="19.00" rx="1.3" ry="0.9" fill="#a0a0a0"/>
</g>
<rect x="0" y="43.90" width="83.0" height="22.00" fill="#111111"/>
<rect x="0.5" y="50.80" width="82.0" height="2.4" fill="#2e2e2e" filter="url(#bl05)"/>
</g>
<g transform="translate(187.90,357.50)">
<path d="M22.90,30.00 C22.90,18.94 31.76,10.60 43.50,10.60 C61.66,10.60 70.60,20.57 70.60,40.80 C70.60,47.37 64.20,52.70 56.31,52.70 C37.86,52.70 22.90,42.54 22.90,30.00 Z" fill="#151515"/>
<g clip-path="url(#cp26)">
<path d="M22.90,30.00 C22.90,18.94 31.76,10.60 43.50,10.60 C61.66,10.60 70.60,20.57 70.60,40.80 C70.60,47.37 64.20,52.70 56.31,52.70 C37.86,52.70 22.90,42.54 22.90,30.00 Z" fill="none" stroke="#0b0b0b" stroke-width="3.2"/>
<ellipse cx="47.50" cy="39.90" rx="15" ry="5.5" fill="#282828" filter="url(#bl15)"/>
<path d="M59.79,34.74 A13.5,13.5 0 0 1 48.84,45.69" fill="none" stroke="#3a3a3a" stroke-width="4" filter="url(#bl1)"/>
<ellipse cx="29.40" cy="34.00" rx="4.2" ry="7.5" fill="#252525" filter="url(#bl1)"/>
<ellipse cx="29.40" cy="32.00" rx="1.2" ry="4.5" fill="#333" filter="url(#bl05)"/>
<path d="M34.00,13.20 L39.30,12.10" fill="none" stroke="#707070" stroke-width="1.2" stroke-linecap="round" filter="url(#bl05)"/>
<ellipse cx="46.50" cy="24.90" rx="7.4" ry="6.5" fill="url(#halo2)" filter="url(#bl15)"/>
<ellipse cx="46.50" cy="31.20" rx="8.4" ry="6.4" fill="#fff" filter="url(#bl05)"/>
<ellipse cx="41.00" cy="19.20" rx="1.3" ry="0.9" fill="#a0a0a0"/>
</g>
<rect x="0" y="43.90" width="83.0" height="22.00" fill="#111111"/>
<rect x="0.5" y="50.80" width="82.0" height="2.4" fill="#2e2e2e" filter="url(#bl05)"/>
</g>
<g transform="translate(279.20,357.50)">
<path d="M18.20,30.00 C18.20,18.94 27.57,10.60 40.00,10.60 C57.96,10.60 66.80,20.76 66.80,41.40 C66.80,48.14 60.44,53.60 52.60,53.60 C33.60,53.60 18.20,43.03 18.20,30.00 Z" fill="#151515"/>
<g clip-path="url(#cp27)">
<path d="M18.20,30.00 C18.20,18.94 27.57,10.60 40.00,10.60 C57.96,10.60 66.80,20.76 66.80,41.40 C66.80,48.14 60.44,53.60 52.60,53.60 C33.60,53.60 18.20,43.03 18.20,30.00 Z" fill="none" stroke="#0b0b0b" stroke-width="3.2"/>
<ellipse cx="42.30" cy="39.70" rx="15" ry="5.5" fill="#282828" filter="url(#bl15)"/>
<path d="M54.59,34.54 A13.5,13.5 0 0 1 43.64,45.49" fill="none" stroke="#3a3a3a" stroke-width="4" filter="url(#bl1)"/>
<ellipse cx="24.70" cy="34.00" rx="4.2" ry="7.5" fill="#252525" filter="url(#bl1)"/>
<ellipse cx="24.70" cy="32.00" rx="1.2" ry="4.5" fill="#333" filter="url(#bl05)"/>
<path d="M30.50,13.20 L35.80,12.10" fill="none" stroke="#707070" stroke-width="1.2" stroke-linecap="round" filter="url(#bl05)"/>
<ellipse cx="41.30" cy="24.70" rx="7.4" ry="6.5" fill="url(#halo2)" filter="url(#bl15)"/>
<ellipse cx="41.30" cy="31.00" rx="8.4" ry="6.4" fill="#fff" filter="url(#bl05)"/>
<ellipse cx="35.80" cy="19.00" rx="1.3" ry="0.9" fill="#a0a0a0"/>
</g>
<rect x="0" y="43.90" width="83.0" height="22.00" fill="#111111"/>
<rect x="0.5" y="50.80" width="82.0" height="2.4" fill="#2e2e2e" filter="url(#bl05)"/>
</g>
<g transform="translate(371.00,357.50)">
<rect x="0" y="43.90" width="83.0" height="22.00" fill="#111111"/>
<rect x="0.5" y="50.80" width="82.0" height="2.4" fill="#2e2e2e" filter="url(#bl05)"/>
</g>
<line x1="0.50" y1="0.00" x2="0.50" y2="447.60" stroke="#000" stroke-width="1.0"/>
<line x1="92.20" y1="0.00" x2="92.20" y2="447.60" stroke="#555" stroke-width="1.4"/>
<line x1="183.50" y1="0.00" x2="183.50" y2="447.60" stroke="#555" stroke-width="1.4"/>
<line x1="275.30" y1="0.00" x2="275.30" y2="447.60" stroke="#555" stroke-width="1.4"/>
<line x1="366.60" y1="0.00" x2="366.60" y2="447.60" stroke="#555" stroke-width="1.4"/>
<line x1="458.30" y1="0.00" x2="458.30" y2="447.60" stroke="#555" stroke-width="1.4"/>
<line x1="549.50" y1="0.00" x2="549.50" y2="447.60" stroke="#222" stroke-width="1.1"/>
<line x1="0.00" y1="0.50" x2="550.20" y2="0.50" stroke="#000" stroke-width="1.0"/>
<line x1="0.00" y1="89.70" x2="550.20" y2="89.70" stroke="#555" stroke-width="1.5"/>
<line x1="0.00" y1="179.00" x2="550.20" y2="179.00" stroke="#555" stroke-width="1.5"/>
<line x1="0.00" y1="268.50" x2="550.20" y2="268.50" stroke="#555" stroke-width="1.5"/>
<line x1="0.00" y1="357.50" x2="550.20" y2="357.50" stroke="#555" stroke-width="1.5"/>
<line x1="0.00" y1="446.90" x2="550.20" y2="446.90" stroke="#555" stroke-width="1.5"/>
<text x="33.70" y="81.80" class="lb">θ<tspan class="sb" dx="0.7" dy="3.1">s</tspan><tspan dx="0.9" dy="-3.1">= 0</tspan><tspan class="sp" dx="-0.6" dy="-3.9">°</tspan></text>
<text x="123.40" y="81.80" class="lb">θ<tspan class="sb" dx="0.7" dy="3.1">s</tspan><tspan dx="0.9" dy="-3.1">= 1</tspan><tspan class="sp" dx="-0.6" dy="-3.9">°</tspan></text>
<text x="214.80" y="81.80" class="lb">θ<tspan class="sb" dx="0.7" dy="3.1">s</tspan><tspan dx="0.9" dy="-3.1">= 2</tspan><tspan class="sp" dx="-0.6" dy="-3.9">°</tspan></text>
<text x="302.70" y="81.80" class="lb">θ<tspan class="sb" dx="0.7" dy="3.1">s</tspan><tspan dx="0.9" dy="-3.1">= 3</tspan><tspan class="sp" dx="-0.6" dy="-3.9">°</tspan></text>
<text x="393.50" y="81.80" class="lb">θ<tspan class="sb" dx="0.7" dy="3.1">s</tspan><tspan dx="0.9" dy="-3.1">= 4</tspan><tspan class="sp" dx="-0.6" dy="-3.9">°</tspan></text>
<text x="488.60" y="81.80" class="lb">θ<tspan class="sb" dx="0.7" dy="3.1">s</tspan><tspan dx="0.9" dy="-3.1">= 5</tspan><tspan class="sp" dx="-0.6" dy="-3.9">°</tspan></text>
<text x="33.70" y="171.00" class="lb">θ<tspan class="sb" dx="0.7" dy="3.1">s</tspan><tspan dx="0.9" dy="-3.1">= 6</tspan><tspan class="sp" dx="-0.6" dy="-3.9">°</tspan></text>
<text x="123.40" y="171.00" class="lb">θ<tspan class="sb" dx="0.7" dy="3.1">s</tspan><tspan dx="0.9" dy="-3.1">= 7</tspan><tspan class="sp" dx="-0.6" dy="-3.9">°</tspan></text>
<text x="214.80" y="171.00" class="lb">θ<tspan class="sb" dx="0.7" dy="3.1">s</tspan><tspan dx="0.9" dy="-3.1">= 8</tspan><tspan class="sp" dx="-0.6" dy="-3.9">°</tspan></text>
<text x="302.70" y="171.00" class="lb">θ<tspan class="sb" dx="0.7" dy="3.1">s</tspan><tspan dx="0.9" dy="-3.1">= 9</tspan><tspan class="sp" dx="-0.6" dy="-3.9">°</tspan></text>
<text x="393.50" y="171.00" class="lb">θ<tspan class="sb" dx="0.7" dy="3.1">s</tspan><tspan dx="0.9" dy="-3.1">= 10</tspan><tspan class="sp" dx="-0.6" dy="-3.9">°</tspan></text>
<text x="488.60" y="171.00" class="lb">θ<tspan class="sb" dx="0.7" dy="3.1">s</tspan><tspan dx="0.9" dy="-3.1">= 11</tspan><tspan class="sp" dx="-0.6" dy="-3.9">°</tspan></text>
<text x="33.70" y="260.30" class="lb">θ<tspan class="sb" dx="0.7" dy="3.1">s</tspan><tspan dx="0.9" dy="-3.1">= 12</tspan><tspan class="sp" dx="-0.6" dy="-3.9">°</tspan></text>
<text x="123.40" y="260.30" class="lb">θ<tspan class="sb" dx="0.7" dy="3.1">s</tspan><tspan dx="0.9" dy="-3.1">= 13</tspan><tspan class="sp" dx="-0.6" dy="-3.9">°</tspan></text>
<text x="214.80" y="260.30" class="lb">θ<tspan class="sb" dx="0.7" dy="3.1">s</tspan><tspan dx="0.9" dy="-3.1">= 14</tspan><tspan class="sp" dx="-0.6" dy="-3.9">°</tspan></text>
<text x="302.70" y="260.30" class="lb">θ<tspan class="sb" dx="0.7" dy="3.1">s</tspan><tspan dx="0.9" dy="-3.1">= 15</tspan><tspan class="sp" dx="-0.6" dy="-3.9">°</tspan></text>
<text x="393.50" y="260.30" class="lb">θ<tspan class="sb" dx="0.7" dy="3.1">s</tspan><tspan dx="0.9" dy="-3.1">= 16</tspan><tspan class="sp" dx="-0.6" dy="-3.9">°</tspan></text>
<text x="488.60" y="260.30" class="lb">θ<tspan class="sb" dx="0.7" dy="3.1">s</tspan><tspan dx="0.9" dy="-3.1">= 17</tspan><tspan class="sp" dx="-0.6" dy="-3.9">°</tspan></text>
<text x="33.70" y="349.80" class="lb">θ<tspan class="sb" dx="0.7" dy="3.1">s</tspan><tspan dx="0.9" dy="-3.1">= 18</tspan><tspan class="sp" dx="-0.6" dy="-3.9">°</tspan></text>
<text x="123.40" y="349.80" class="lb">θ<tspan class="sb" dx="0.7" dy="3.1">s</tspan><tspan dx="0.9" dy="-3.1">= 19</tspan><tspan class="sp" dx="-0.6" dy="-3.9">°</tspan></text>
<text x="214.80" y="349.80" class="lb">θ<tspan class="sb" dx="0.7" dy="3.1">s</tspan><tspan dx="0.9" dy="-3.1">= 20</tspan><tspan class="sp" dx="-0.6" dy="-3.9">°</tspan></text>
<text x="302.70" y="349.80" class="lb">θ<tspan class="sb" dx="0.7" dy="3.1">s</tspan><tspan dx="0.9" dy="-3.1">= 21</tspan><tspan class="sp" dx="-0.6" dy="-3.9">°</tspan></text>
<text x="393.50" y="349.80" class="lb">θ<tspan class="sb" dx="0.7" dy="3.1">s</tspan><tspan dx="0.9" dy="-3.1">= 22</tspan><tspan class="sp" dx="-0.6" dy="-3.9">°</tspan></text>
<text x="488.60" y="349.80" class="lb">θ<tspan class="sb" dx="0.7" dy="3.1">s</tspan><tspan dx="0.9" dy="-3.1">= 23</tspan><tspan class="sp" dx="-0.6" dy="-3.9">°</tspan></text>
<text x="33.70" y="438.80" class="lb">θ<tspan class="sb" dx="0.7" dy="3.1">s</tspan><tspan dx="0.9" dy="-3.1">= 24</tspan><tspan class="sp" dx="-0.6" dy="-3.9">°</tspan></text>
<text x="123.40" y="438.80" class="lb">θ<tspan class="sb" dx="0.7" dy="3.1">s</tspan><tspan dx="0.9" dy="-3.1">= 25</tspan><tspan class="sp" dx="-0.6" dy="-3.9">°</tspan></text>
<text x="214.80" y="438.80" class="lb">θ<tspan class="sb" dx="0.7" dy="3.1">s</tspan><tspan dx="0.9" dy="-3.1">= 26</tspan><tspan class="sp" dx="-0.6" dy="-3.9">°</tspan></text>
<text x="302.70" y="438.80" class="lb">θ<tspan class="sb" dx="0.7" dy="3.1">s</tspan><tspan dx="0.9" dy="-3.1">= 27</tspan><tspan class="sp" dx="-0.6" dy="-3.9">°</tspan></text>
<text x="393.50" y="438.80" class="lb">θ<tspan class="sb" dx="0.7" dy="3.1">s</tspan><tspan dx="0.9" dy="-3.1">= 28</tspan><tspan class="sp" dx="-0.6" dy="-3.9">°</tspan></text>
<text x="490.6" y="458.8" class="mm">1 mm</text>
<line x1="522.2" y1="454.8" x2="538.6" y2="454.8" stroke="#000" stroke-width="1"/>
<line x1="522.4" y1="452.3" x2="522.4" y2="457.3" stroke="#000" stroke-width="1"/>
<line x1="538.4" y1="452.3" x2="538.4" y2="457.3" stroke="#000" stroke-width="1"/>
<text x="292.0" y="493.0" class="cap" text-anchor="middle">(a)</text>
<text x="291.8" y="790.3" class="cap" text-anchor="middle">(b)</text>
<rect x="184.5" y="564.6" width="202.90" height="150.70" fill="#fff"/>
<line x1="196.5" y1="564.6" x2="196.5" y2="715.3" stroke="#c2c2c2" stroke-width="1.25"/>
<line x1="228.9" y1="564.6" x2="228.9" y2="715.3" stroke="#c2c2c2" stroke-width="1.25"/>
<line x1="261.0" y1="564.6" x2="261.0" y2="715.3" stroke="#c2c2c2" stroke-width="1.25"/>
<line x1="292.3" y1="564.6" x2="292.3" y2="715.3" stroke="#c2c2c2" stroke-width="1.25"/>
<line x1="324.4" y1="564.6" x2="324.4" y2="715.3" stroke="#c2c2c2" stroke-width="1.25"/>
<line x1="355.5" y1="564.6" x2="355.5" y2="715.3" stroke="#c2c2c2" stroke-width="1.25"/>
<line x1="184.5" y1="602.8" x2="387.4" y2="602.8" stroke="#c2c2c2" stroke-width="1.25"/>
<line x1="184.5" y1="640.1" x2="387.4" y2="640.1" stroke="#c2c2c2" stroke-width="1.25"/>
<line x1="184.5" y1="678.6" x2="387.4" y2="678.6" stroke="#c2c2c2" stroke-width="1.25"/>
<polyline points="196.1,608.9 202.8,609.2 210.4,607.7 216.2,607.5 222.3,606.4 228.5,606.3 235.1,604.5 240.9,603.4 247.0,603.1 253.3,601.6 261.1,601.0 267.0,600.1 273.4,599.8 279.6,597.9 285.9,596.2 292.0,596.2 298.1,599.8 304.4,599.8 311.6,596.6 318.2,591.8 324.1,592.3 330.5,590.5 336.5,588.6 342.8,593.7 349.1,595.5 355.3,598.4 363.2,593.7 369.2,593.7" fill="none" stroke="#00f" stroke-width="1.25"/>
<circle cx="196.1" cy="608.9" r="3.1" fill="none" stroke="#00f" stroke-width="1.5"/>
<circle cx="202.8" cy="609.2" r="3.1" fill="none" stroke="#00f" stroke-width="1.5"/>
<circle cx="210.4" cy="607.7" r="3.1" fill="none" stroke="#00f" stroke-width="1.5"/>
<circle cx="216.2" cy="607.5" r="3.1" fill="none" stroke="#00f" stroke-width="1.5"/>
<circle cx="222.3" cy="606.4" r="3.1" fill="none" stroke="#00f" stroke-width="1.5"/>
<circle cx="228.5" cy="606.3" r="3.1" fill="none" stroke="#00f" stroke-width="1.5"/>
<circle cx="235.1" cy="604.5" r="3.1" fill="none" stroke="#00f" stroke-width="1.5"/>
<circle cx="240.9" cy="603.4" r="3.1" fill="none" stroke="#00f" stroke-width="1.5"/>
<circle cx="247.0" cy="603.1" r="3.1" fill="none" stroke="#00f" stroke-width="1.5"/>
<circle cx="253.3" cy="601.6" r="3.1" fill="none" stroke="#00f" stroke-width="1.5"/>
<circle cx="261.1" cy="601.0" r="3.1" fill="none" stroke="#00f" stroke-width="1.5"/>
<circle cx="267.0" cy="600.1" r="3.1" fill="none" stroke="#00f" stroke-width="1.5"/>
<circle cx="273.4" cy="599.8" r="3.1" fill="none" stroke="#00f" stroke-width="1.5"/>
<circle cx="279.6" cy="597.9" r="3.1" fill="none" stroke="#00f" stroke-width="1.5"/>
<circle cx="285.9" cy="596.2" r="3.1" fill="none" stroke="#00f" stroke-width="1.5"/>
<circle cx="292.0" cy="596.2" r="3.1" fill="none" stroke="#00f" stroke-width="1.5"/>
<circle cx="298.1" cy="599.8" r="3.1" fill="none" stroke="#00f" stroke-width="1.5"/>
<circle cx="304.4" cy="599.8" r="3.1" fill="none" stroke="#00f" stroke-width="1.5"/>
<circle cx="311.6" cy="596.6" r="3.1" fill="none" stroke="#00f" stroke-width="1.5"/>
<circle cx="318.2" cy="591.8" r="3.1" fill="none" stroke="#00f" stroke-width="1.5"/>
<circle cx="324.1" cy="592.3" r="3.1" fill="none" stroke="#00f" stroke-width="1.5"/>
<circle cx="330.5" cy="590.5" r="3.1" fill="none" stroke="#00f" stroke-width="1.5"/>
<circle cx="336.5" cy="588.6" r="3.1" fill="none" stroke="#00f" stroke-width="1.5"/>
<circle cx="342.8" cy="593.7" r="3.1" fill="none" stroke="#00f" stroke-width="1.5"/>
<circle cx="349.1" cy="595.5" r="3.1" fill="none" stroke="#00f" stroke-width="1.5"/>
<circle cx="355.3" cy="598.4" r="3.1" fill="none" stroke="#00f" stroke-width="1.5"/>
<circle cx="363.2" cy="593.7" r="3.1" fill="none" stroke="#00f" stroke-width="1.5"/>
<circle cx="369.2" cy="593.7" r="3.1" fill="none" stroke="#00f" stroke-width="1.5"/>
<polyline points="196.1,615.0 202.8,616.6 210.4,616.6 216.2,617.9 222.3,619.8 228.5,621.3 235.1,622.7 240.9,624.5 247.0,622.7 253.3,622.7 261.1,619.9 267.0,629.2 273.4,632.1 279.6,633.7 285.9,636.6 292.0,638.4 298.1,639.8 304.4,643.2 311.6,643.2 318.2,643.2 324.1,644.4 330.5,644.4 336.5,643.0 342.8,644.4 349.1,644.7 355.3,646.2 363.2,647.6 369.2,650.5" fill="none" stroke="#f00" stroke-width="1.25"/>
<circle cx="196.1" cy="615.0" r="3.1" fill="none" stroke="#f00" stroke-width="1.5"/>
<circle cx="202.8" cy="616.6" r="3.1" fill="none" stroke="#f00" stroke-width="1.5"/>
<circle cx="210.4" cy="616.6" r="3.1" fill="none" stroke="#f00" stroke-width="1.5"/>
<circle cx="216.2" cy="617.9" r="3.1" fill="none" stroke="#f00" stroke-width="1.5"/>
<circle cx="222.3" cy="619.8" r="3.1" fill="none" stroke="#f00" stroke-width="1.5"/>
<circle cx="228.5" cy="621.3" r="3.1" fill="none" stroke="#f00" stroke-width="1.5"/>
<circle cx="235.1" cy="622.7" r="3.1" fill="none" stroke="#f00" stroke-width="1.5"/>
<circle cx="240.9" cy="624.5" r="3.1" fill="none" stroke="#f00" stroke-width="1.5"/>
<circle cx="247.0" cy="622.7" r="3.1" fill="none" stroke="#f00" stroke-width="1.5"/>
<circle cx="253.3" cy="622.7" r="3.1" fill="none" stroke="#f00" stroke-width="1.5"/>
<circle cx="261.1" cy="619.9" r="3.1" fill="none" stroke="#f00" stroke-width="1.5"/>
<circle cx="267.0" cy="629.2" r="3.1" fill="none" stroke="#f00" stroke-width="1.5"/>
<circle cx="273.4" cy="632.1" r="3.1" fill="none" stroke="#f00" stroke-width="1.5"/>
<circle cx="279.6" cy="633.7" r="3.1" fill="none" stroke="#f00" stroke-width="1.5"/>
<circle cx="285.9" cy="636.6" r="3.1" fill="none" stroke="#f00" stroke-width="1.5"/>
<circle cx="292.0" cy="638.4" r="3.1" fill="none" stroke="#f00" stroke-width="1.5"/>
<circle cx="298.1" cy="639.8" r="3.1" fill="none" stroke="#f00" stroke-width="1.5"/>
<circle cx="304.4" cy="643.2" r="3.1" fill="none" stroke="#f00" stroke-width="1.5"/>
<circle cx="311.6" cy="643.2" r="3.1" fill="none" stroke="#f00" stroke-width="1.5"/>
<circle cx="318.2" cy="643.2" r="3.1" fill="none" stroke="#f00" stroke-width="1.5"/>
<circle cx="324.1" cy="644.4" r="3.1" fill="none" stroke="#f00" stroke-width="1.5"/>
<circle cx="330.5" cy="644.4" r="3.1" fill="none" stroke="#f00" stroke-width="1.5"/>
<circle cx="336.5" cy="643.0" r="3.1" fill="none" stroke="#f00" stroke-width="1.5"/>
<circle cx="342.8" cy="644.4" r="3.1" fill="none" stroke="#f00" stroke-width="1.5"/>
<circle cx="349.1" cy="644.7" r="3.1" fill="none" stroke="#f00" stroke-width="1.5"/>
<circle cx="355.3" cy="646.2" r="3.1" fill="none" stroke="#f00" stroke-width="1.5"/>
<circle cx="363.2" cy="647.6" r="3.1" fill="none" stroke="#f00" stroke-width="1.5"/>
<circle cx="369.2" cy="650.5" r="3.1" fill="none" stroke="#f00" stroke-width="1.5"/>
<polyline points="196.1,709.0 202.8,709.0 210.4,706.1 216.2,704.6 222.3,701.7 228.5,699.8 235.1,697.3 240.9,695.5 247.0,693.7 253.3,693.7 261.1,695.4 267.0,686.2 273.4,681.3 279.6,679.8 285.9,675.5 292.0,673.6 298.1,675.5 304.4,672.5 311.6,669.2 318.2,664.5 324.1,664.6 330.5,661.4 336.5,659.5 342.8,664.0 349.1,664.4 355.3,667.9 363.2,661.5 369.2,658.6" fill="none" stroke="#000" stroke-width="1.25"/>
<circle cx="196.1" cy="709.0" r="3.1" fill="none" stroke="#000" stroke-width="1.5"/>
<circle cx="202.8" cy="709.0" r="3.1" fill="none" stroke="#000" stroke-width="1.5"/>
<circle cx="210.4" cy="706.1" r="3.1" fill="none" stroke="#000" stroke-width="1.5"/>
<circle cx="216.2" cy="704.6" r="3.1" fill="none" stroke="#000" stroke-width="1.5"/>
<circle cx="222.3" cy="701.7" r="3.1" fill="none" stroke="#000" stroke-width="1.5"/>
<circle cx="228.5" cy="699.8" r="3.1" fill="none" stroke="#000" stroke-width="1.5"/>
<circle cx="235.1" cy="697.3" r="3.1" fill="none" stroke="#000" stroke-width="1.5"/>
<circle cx="240.9" cy="695.5" r="3.1" fill="none" stroke="#000" stroke-width="1.5"/>
<circle cx="247.0" cy="693.7" r="3.1" fill="none" stroke="#000" stroke-width="1.5"/>
<circle cx="253.3" cy="693.7" r="3.1" fill="none" stroke="#000" stroke-width="1.5"/>
<circle cx="261.1" cy="695.4" r="3.1" fill="none" stroke="#000" stroke-width="1.5"/>
<circle cx="267.0" cy="686.2" r="3.1" fill="none" stroke="#000" stroke-width="1.5"/>
<circle cx="273.4" cy="681.3" r="3.1" fill="none" stroke="#000" stroke-width="1.5"/>
<circle cx="279.6" cy="679.8" r="3.1" fill="none" stroke="#000" stroke-width="1.5"/>
<circle cx="285.9" cy="675.5" r="3.1" fill="none" stroke="#000" stroke-width="1.5"/>
<circle cx="292.0" cy="673.6" r="3.1" fill="none" stroke="#000" stroke-width="1.5"/>
<circle cx="298.1" cy="675.5" r="3.1" fill="none" stroke="#000" stroke-width="1.5"/>
<circle cx="304.4" cy="672.5" r="3.1" fill="none" stroke="#000" stroke-width="1.5"/>
<circle cx="311.6" cy="669.2" r="3.1" fill="none" stroke="#000" stroke-width="1.5"/>
<circle cx="318.2" cy="664.5" r="3.1" fill="none" stroke="#000" stroke-width="1.5"/>
<circle cx="324.1" cy="664.6" r="3.1" fill="none" stroke="#000" stroke-width="1.5"/>
<circle cx="330.5" cy="661.4" r="3.1" fill="none" stroke="#000" stroke-width="1.5"/>
<circle cx="336.5" cy="659.5" r="3.1" fill="none" stroke="#000" stroke-width="1.5"/>
<circle cx="342.8" cy="664.0" r="3.1" fill="none" stroke="#000" stroke-width="1.5"/>
<circle cx="349.1" cy="664.4" r="3.1" fill="none" stroke="#000" stroke-width="1.5"/>
<circle cx="355.3" cy="667.9" r="3.1" fill="none" stroke="#000" stroke-width="1.5"/>
<circle cx="363.2" cy="661.5" r="3.1" fill="none" stroke="#000" stroke-width="1.5"/>
<circle cx="369.2" cy="658.6" r="3.1" fill="none" stroke="#000" stroke-width="1.5"/>
<rect x="184.5" y="564.6" width="202.90" height="150.70" fill="none" stroke="#000" stroke-width="1.7"/>
<text x="180.8" y="719.60" class="tk" text-anchor="end">0</text>
<text x="180.8" y="682.90" class="tk" text-anchor="end">50</text>
<text x="180.8" y="644.40" class="tk" text-anchor="end">100</text>
<text x="180.8" y="607.10" class="tk" text-anchor="end">150</text>
<text x="180.8" y="568.90" class="tk" text-anchor="end">200</text>
<text x="196.6" y="730.8" class="tk" text-anchor="middle">0</text>
<text x="228.9" y="730.8" class="tk" text-anchor="middle">5</text>
<text x="261.0" y="730.8" class="tk" text-anchor="middle">10</text>
<text x="292.3" y="730.8" class="tk" text-anchor="middle">15</text>
<text x="324.2" y="730.8" class="tk" text-anchor="middle">20</text>
<text x="355.5" y="730.8" class="tk" text-anchor="middle">25</text>
<text x="387.0" y="730.8" class="tk" text-anchor="middle">30</text>
<text transform="translate(152.6,694.9) rotate(-90)" class="al2">Contact Angle [<tspan class="dg" dx="-1.0" dy="-5.0">°</tspan><tspan dx="-1.0" dy="5.0">]</tspan></text>
<text x="275.4" y="751.2" class="al">θ<tspan class="sb2" dy="1.6">s</tspan><tspan dy="-1.6"> [</tspan><tspan class="dg" dx="-1.0" dy="-5.0">°</tspan><tspan dx="-1.0" dy="5.0">]</tspan></text>
<line x1="215.5" y1="515.2" x2="274.3" y2="515.2" stroke="#00f" stroke-width="1.3"/>
<circle cx="244.2" cy="515.2" r="3.1" fill="none" stroke="#00f" stroke-width="1.5"/>
<text x="289.3" y="519.2" class="lg">Advancing</text>
<line x1="215.5" y1="532.1" x2="274.3" y2="532.1" stroke="#f00" stroke-width="1.3"/>
<circle cx="244.2" cy="532.1" r="3.1" fill="none" stroke="#f00" stroke-width="1.5"/>
<text x="289.3" y="536.3" class="lg">Receding</text>
<line x1="215.5" y1="548.9" x2="274.3" y2="548.9" stroke="#000" stroke-width="1.3"/>
<circle cx="244.2" cy="548.9" r="3.1" fill="none" stroke="#000" stroke-width="1.5"/>
<text x="289.3" y="553.5" class="lg">Hysteresis</text>
</svg>
</body></html>
